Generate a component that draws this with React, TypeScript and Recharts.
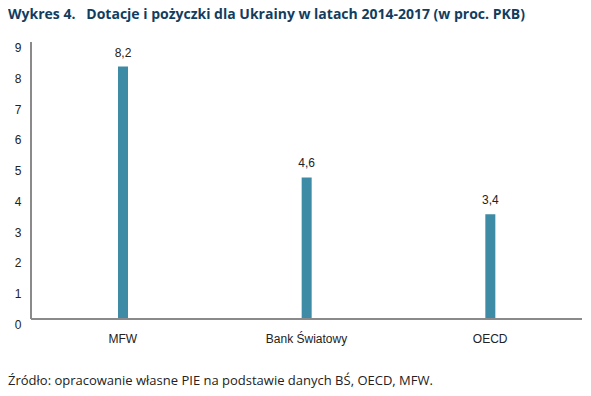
import { BarChart, Bar, XAxis, YAxis, LabelList } from "recharts";

const categories = ["MFW", "Bank Światowy", "OECD"];
const values = [8.2, 4.6, 3.4];
const yTicks = [0, 1, 2, 3, 4, 5, 6, 7, 8, 9];

const data = categories.map((name, i) => ({ name, value: values[i] }));

const YTick = ({ y, payload }: any) => (
  <text x={18} y={y + 6} textAnchor="middle" dominantBaseline="central" fontSize={12} fill="#222" fontFamily="Liberation Sans">
    {payload.value}
  </text>
);

const XTick = ({ x, y, payload }: any) => (
  <text x={x} y={y + 12} textAnchor="middle" dominantBaseline="central" fontSize={12} fill="#222" fontFamily="Liberation Sans">
    {payload.value}
  </text>
);

const App = () => {
  return (
    <div style={{ position: "relative", width: 591, height: 396, margin: -8, background: "#fff" }}>
      <div
        style={{
          position: "absolute",
          left: 8,
          top: 4,
          fontFamily: "Open Sans",
          fontWeight: 700,
          fontSize: 14,
          color: "#123d5e",
          whiteSpace: "pre",
        }}
      >
        {"Wykres 4.   Dotacje i pożyczki dla Ukrainy w latach 2014-2017 (w proc. PKB)"}
      </div>
      <div style={{ position: "absolute", left: 0, top: 0 }}>
        <BarChart width={591} height={396} data={data} margin={{ top: 42, right: 9, bottom: 47, left: 0 }}>
          <YAxis
            width={31}
            domain={[0, 9]}
            ticks={yTicks}
            interval={0}
            axisLine={{ stroke: "#8a8a8a", strokeWidth: 2 }}
            tickLine={false}
            tick={<YTick />}
          />
          <XAxis
            dataKey="name"
            height={30}
            axisLine={{ stroke: "#8a8a8a", strokeWidth: 2 }}
            tickLine={false}
            tick={<XTick />}
          />
          <Bar dataKey="value" fill="#3d8ba5" barSize={10} isAnimationActive={false}>
            <LabelList
              dataKey="value"
              position="top"
              offset={10}
              fontSize={12}
              fill="#222"
              fontFamily="Liberation Sans"
              formatter={(v: any) => String(v).replace(".", ",")}
            />
          </Bar>
        </BarChart>
      </div>
      <div
        style={{
          position: "absolute",
          left: 8,
          top: 371,
          fontFamily: "Open Sans",
          fontSize: 13,
          color: "#222",
        }}
      >
        Źródło: opracowanie własne PIE na podstawie danych BŚ, OECD, MFW.
      </div>
    </div>
  );
};

export default App;
